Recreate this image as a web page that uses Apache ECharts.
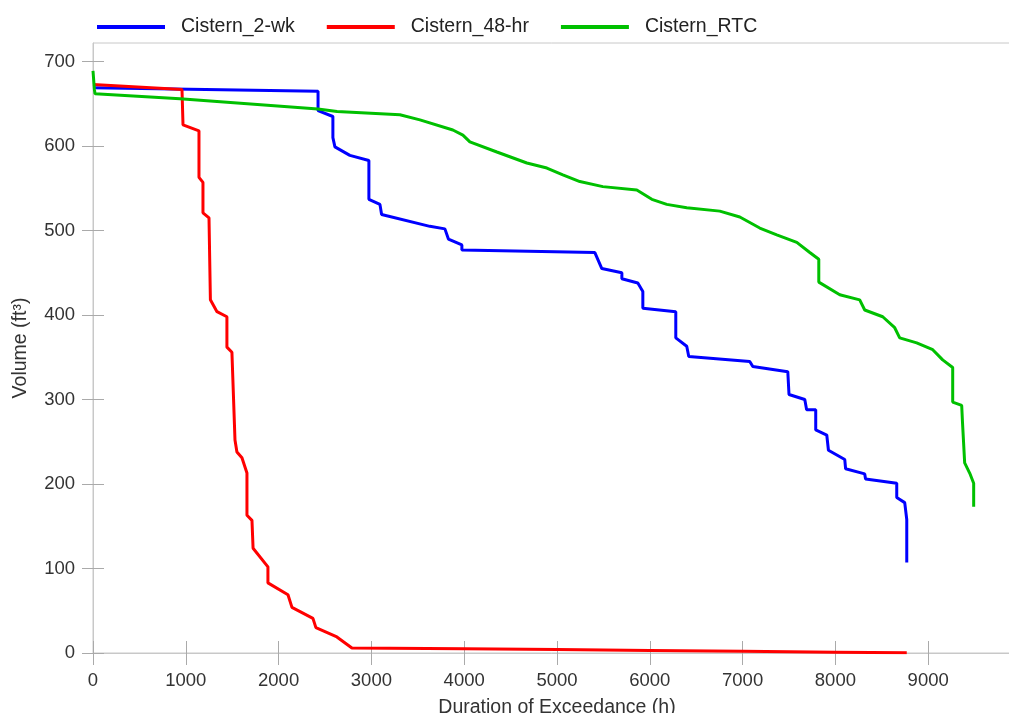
<!DOCTYPE html>
<html>
<head>
    <meta charset="utf-8">
    <script src="https://cdn.jsdelivr.net/npm/echarts@6/dist/echarts.min.js"></script>
    <style>
        html, body { margin: 0; padding: 0; background: #fff; }
    </style>
</head>

<body>
<div id="main" style="width: 1009px;height:713px;"></div>

<script type="text/javascript">
    // 数据 (duration h, volume ft3)
    var seriesNames = ['Cistern_2-wk', 'Cistern_48-hr', 'Cistern_RTC'];
    var seriesColors = ['#0000ff', '#ff0000', '#00c000'];

    var cistern2wk = [
        [0, 669], [2425, 665], [2425, 642], [2585, 635], [2585, 610], [2607, 599],
        [2768, 589], [2973, 583], [2973, 537], [3092, 531], [3110, 519], [3630, 505],
        [3792, 502], [3830, 490], [3975, 483], [3975, 477], [5408, 474], [5483, 455],
        [5699, 450], [5699, 443], [5871, 438], [5925, 428], [5925, 408], [6280, 404],
        [6280, 373], [6398, 363], [6420, 351], [7077, 345], [7110, 339], [7487, 333],
        [7500, 306], [7670, 300], [7690, 288], [7788, 288], [7788, 264], [7907, 258],
        [7925, 240], [8101, 229], [8110, 218], [8316, 212], [8325, 206], [8661, 201],
        [8661, 184], [8747, 178], [8769, 158], [8769, 107]
    ];

    var cistern48hr = [
        [0, 673], [959, 667], [970, 625], [1142, 618], [1142, 563], [1185, 557],
        [1185, 521], [1250, 515], [1265, 418], [1336, 404], [1443, 398], [1443, 362],
        [1497, 356], [1530, 252], [1551, 238], [1605, 231], [1659, 213], [1659, 163],
        [1713, 157], [1725, 124], [1885, 102], [1885, 83], [2101, 69], [2144, 54],
        [2370, 41], [2402, 30], [2628, 19], [2790, 6], [4000, 5], [5000, 4],
        [6000, 3], [7000, 2], [8000, 1], [8769, 0.3]
    ];

    var cisternRTC = [
        [0, 689], [15, 667], [22, 662], [937, 656], [2424, 644], [2630, 641],
        [3307, 637], [3523, 631], [3878, 619], [3986, 613], [4061, 605], [4352, 593],
        [4675, 580], [4891, 574], [5063, 566], [5246, 558], [5494, 552], [5860, 548],
        [6022, 537], [6183, 531], [6398, 527], [6754, 523], [6970, 516], [7185, 503],
        [7368, 495], [7584, 486], [7724, 474], [7821, 466], [7821, 439], [8047, 424],
        [8262, 418], [8316, 406], [8510, 398], [8639, 385], [8693, 373], [8876, 367],
        [9049, 359], [9156, 347], [9264, 338], [9264, 297], [9361, 293], [9370, 272],
        [9393, 225], [9447, 213], [9490, 201], [9490, 173]
    ];

    var xTicks = [0, 1000, 2000, 3000, 4000, 5000, 6000, 7000, 8000, 9000];
    var yTicks = [0, 100, 200, 300, 400, 500, 600, 700];

    var myChart = echarts.init(document.getElementById('main'));

    var font = 'Liberation Sans, Arial, sans-serif';
    var gray = '#c8c8c8';

    function makeSeries(name, data, color) {
        return {
            name: name,
            type: 'line',
            data: data,
            showSymbol: false,
            symbol: 'none',
            animation: false,
            lineStyle: { color: color, width: 3 },
            itemStyle: { color: color }
        };
    }

    function plain(v) { return String(v); }

    var option = {
        animation: false,
        legend: {
            top: 12,
            left: 92,
            icon: 'rect',
            itemWidth: 68,
            itemHeight: 4,
            itemGap: 32,
            textStyle: { fontFamily: font, fontSize: 19.5, color: '#222', padding: [0, 0, 0, 11] },
            data: seriesNames
        },
        grid: {
            left: 93,
            top: 43,
            width: 928,
            height: 610,
            outerBoundsMode: 'none',
            containLabel: false,
            show: true,
            borderColor: gray,
            borderWidth: 1
        },
        xAxis: [{
            type: 'value',
            min: 0,
            max: 10000,
            interval: 1000,
            name: 'Duration of Exceedance (h)',
            nameLocation: 'middle',
            nameGap: 45,
            nameTextStyle: { fontFamily: font, fontSize: 19.5, color: '#333' },
            axisLine: { show: true, lineStyle: { color: gray } },
            axisTick: { show: true, inside: false, length: 12, lineStyle: { color: '#aaa' }, customValues: xTicks },
            axisLabel: { fontFamily: font, fontSize: 18.5, color: '#333', margin: 18, formatter: plain, customValues: xTicks },
            splitLine: { show: false }
        }, {
            type: 'value',
            min: 0,
            max: 10000,
            interval: 1000,
            position: 'bottom',
            axisLine: { show: false },
            axisTick: { show: true, inside: true, length: 12, lineStyle: { color: '#aaa' }, customValues: xTicks },
            axisLabel: { show: false },
            splitLine: { show: false }
        }],
        yAxis: [{
            type: 'value',
            min: 0,
            max: 722,
            interval: 100,
            name: 'Volume (ft³)',
            nameLocation: 'middle',
            nameGap: 62,
            nameTextStyle: { fontFamily: font, fontSize: 19.5, color: '#333' },
            axisLine: { show: true, lineStyle: { color: gray } },
            axisTick: { show: true, inside: false, length: 11, lineStyle: { color: '#aaa' }, customValues: yTicks },
            axisLabel: { fontFamily: font, fontSize: 18.5, color: '#333', margin: 18, formatter: plain, customValues: yTicks },
            splitLine: { show: false }
        }, {
            type: 'value',
            min: 0,
            max: 722,
            interval: 100,
            position: 'left',
            axisLine: { show: false },
            axisTick: { show: true, inside: true, length: 11, lineStyle: { color: '#aaa' }, customValues: yTicks },
            axisLabel: { show: false },
            splitLine: { show: false }
        }],
        series: [
            makeSeries(seriesNames[0], cistern2wk, seriesColors[0]),
            makeSeries(seriesNames[1], cistern48hr, seriesColors[1]),
            makeSeries(seriesNames[2], cisternRTC, seriesColors[2])
        ]
    };

    myChart.setOption(option);
</script>

</body>

</html>
